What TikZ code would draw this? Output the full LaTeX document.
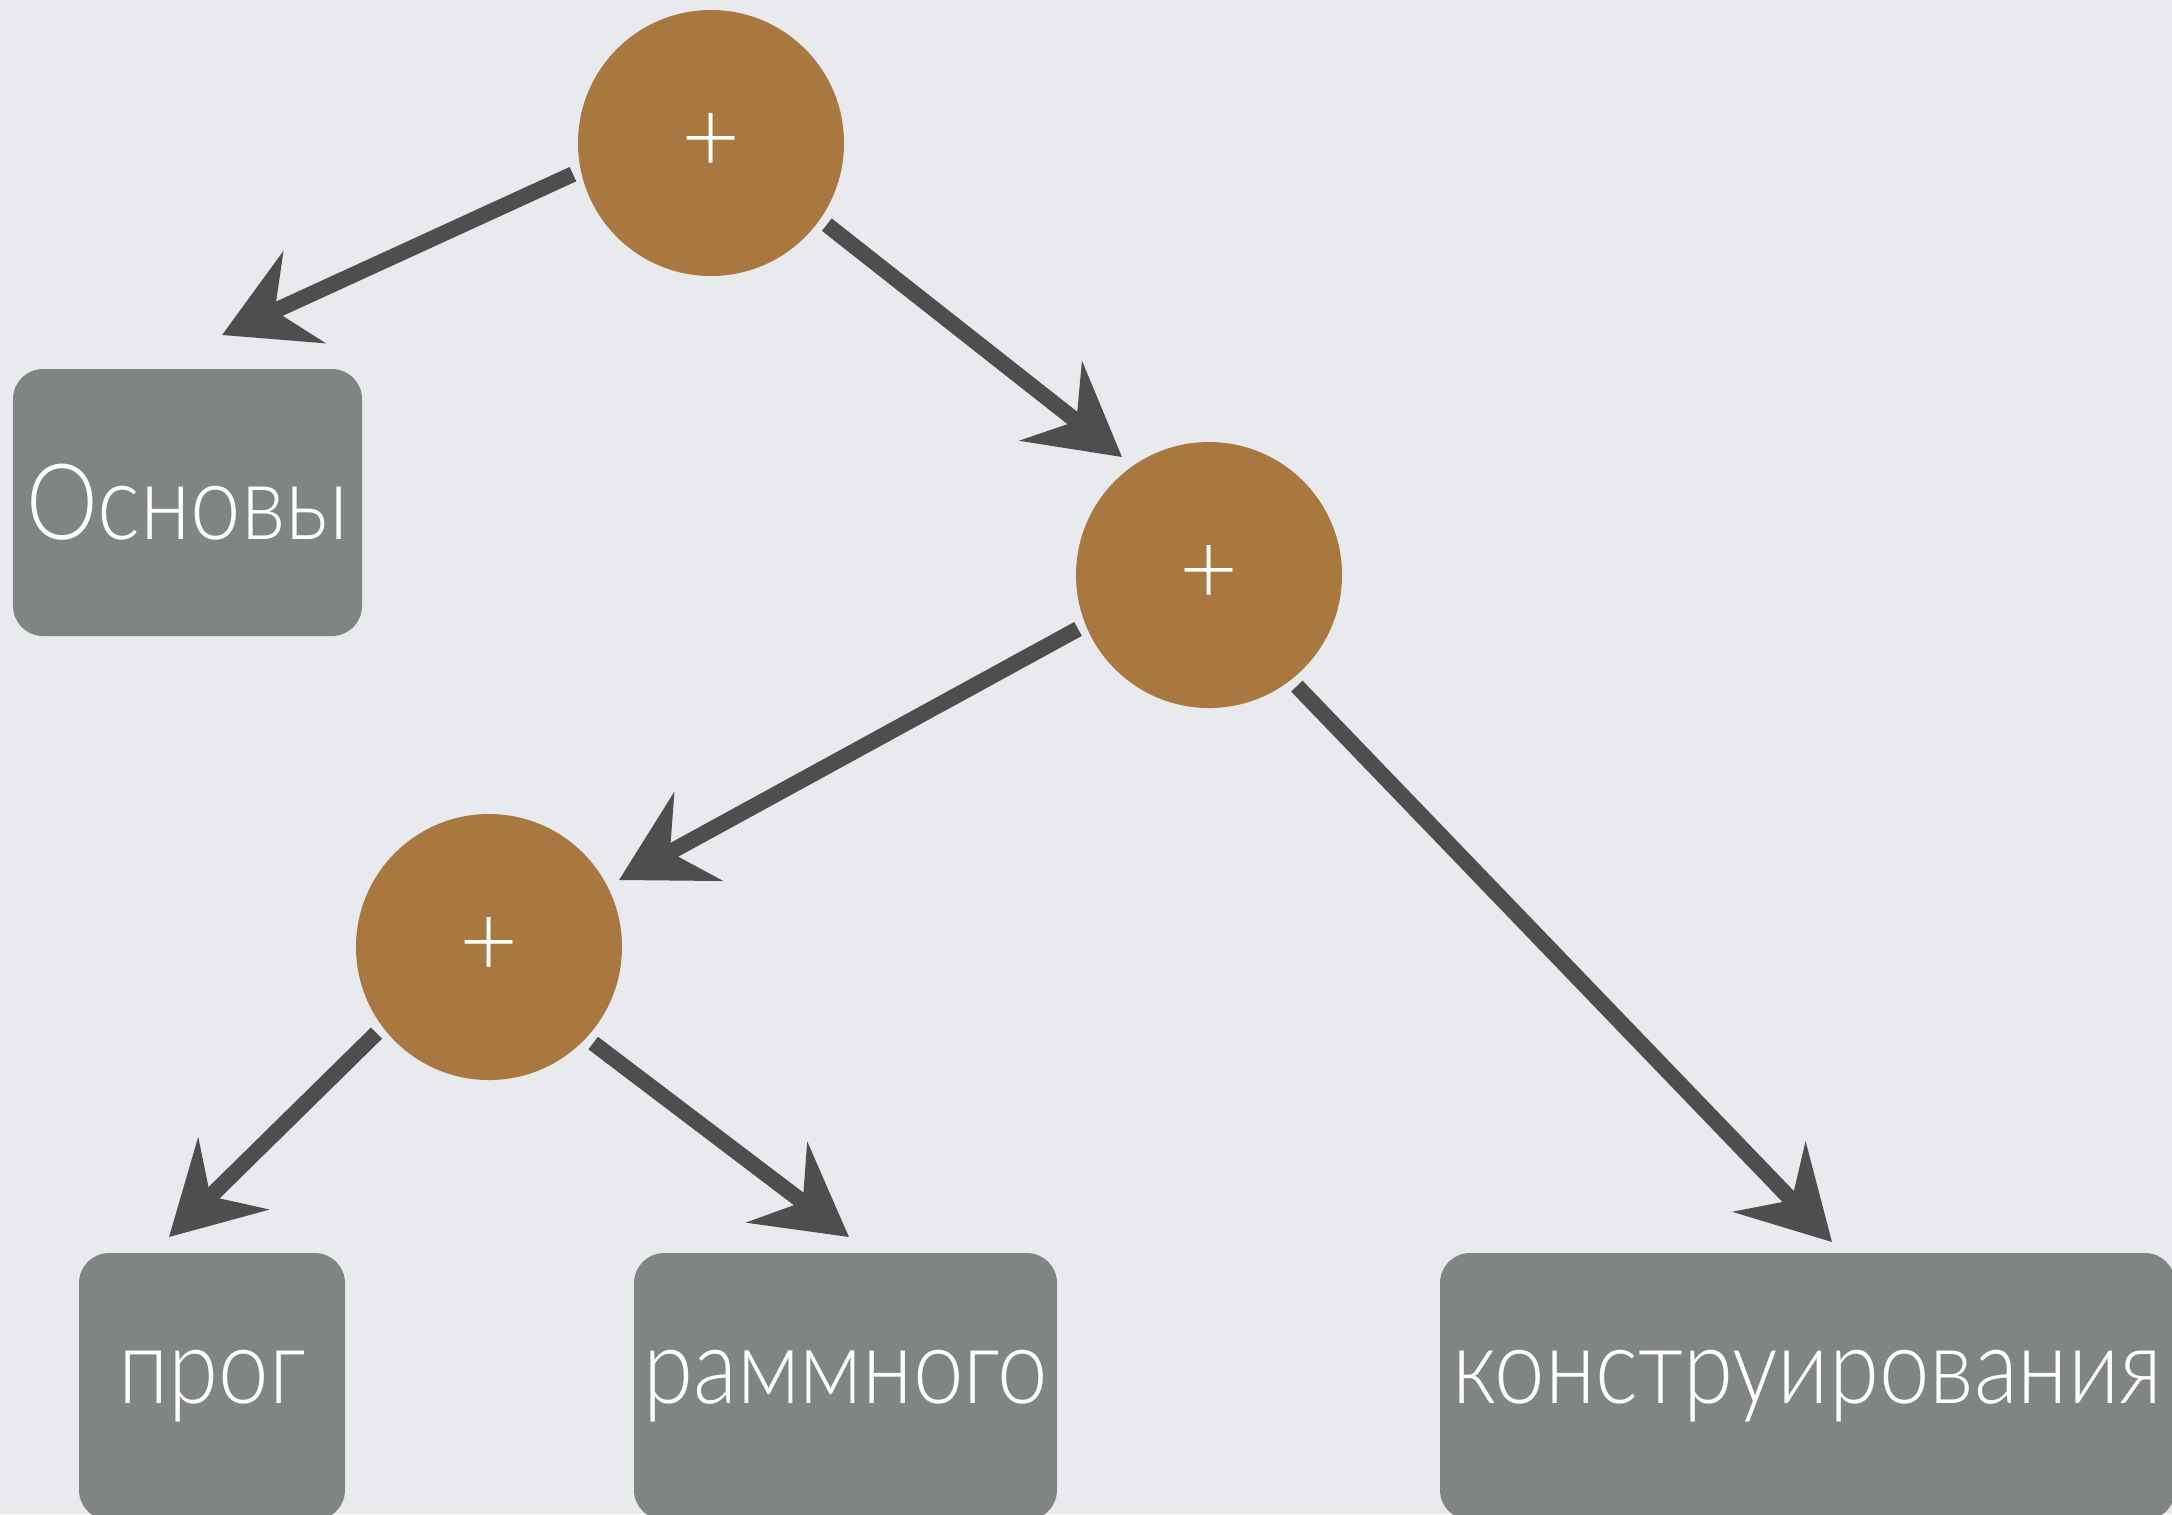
\documentclass[tikz,border=0pt]{standalone}
\usepackage{fontspec}
\setmainfont{Lato}[UprightFont=* Light,FakeStretch=0.86]
\newfontfamily\plusfont{Lato}[UprightFont=* Light]
\usetikzlibrary{arrows.meta}
\usetikzlibrary{positioning}
\definecolor{bgcol}{RGB}{232,234,238}
\definecolor{plusfill}{RGB}{169,120,64}
\definecolor{wordfill}{RGB}{128,133,130}
\definecolor{chalk}{RGB}{78,78,78}

\begin{document}
\begin{tikzpicture}[
  plusnode/.style={circle,fill=plusfill,minimum size=2.66cm,inner sep=0pt,text=white,font=\plusfont\fontsize{29}{35}\selectfont},
  wordnode/.style={rectangle,rounded corners=0.3cm,fill=wordfill,minimum height=2.67cm,inner sep=0pt,text=white,font=\fontsize{30}{36}\selectfont},
  chalkarrow/.style={draw=chalk,line width=4.5pt,shorten <=0.08cm,-{Stealth[length=0.9cm,width=1cm,inset=0.32cm]}}]
\fill[bgcol] (0,0) rectangle (21.72,-15.14);
\useasboundingbox (0,0) rectangle (21.72,-15.14);
\clip (0,0) rectangle (21.72,-15.14);
% operators
\node at (7.11,-1.43)[plusnode](p1){+};
\node at (12.09,-5.75)[plusnode](p2){+};
\node at (4.89,-9.47)[plusnode](p3){+};
% words
\node at (1.875,-5.025)[wordnode,minimum width=3.49cm](w1){Основы};
\node at (2.12,-13.865)[wordnode,minimum width=2.66cm](w2){прог};
\node at (8.455,-13.865)[wordnode,minimum width=4.23cm](w3){раммного};
\node at (18.075,-13.865)[wordnode,minimum width=7.35cm](w4){конструирования};
% arrow tips
\coordinate (t1) at (2.22,-3.35);
\coordinate (t2) at (11.22,-4.57);
\coordinate (t3) at (6.19,-8.80);
\coordinate (t4) at (18.32,-12.42);
\coordinate (t5) at (1.69,-12.37);
\coordinate (t6) at (8.49,-12.37);
\draw[chalkarrow] (p1.192) -- (t1);
\draw[chalkarrow] (p1.-35) -- (t2);
\draw[chalkarrow] (p2.202) -- (t3);
\draw[chalkarrow] (p2.-52) -- (t4);
\draw[chalkarrow] (p3.217) -- (t5);
\draw[chalkarrow] (p3.-43) -- (t6);
\end{tikzpicture}
\end{document}
